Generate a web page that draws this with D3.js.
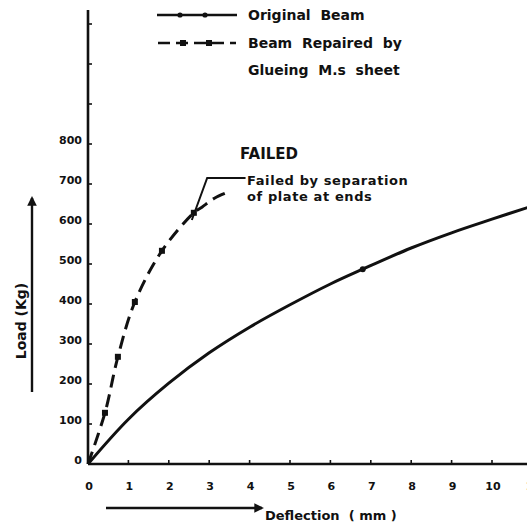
<!DOCTYPE html>
<html>
<head>
<meta charset="utf-8">
<title>Load vs Deflection</title>
<script src="https://cdnjs.cloudflare.com/ajax/libs/d3/7.8.5/d3.min.js"></script>
<style>
  body { margin: 0; background: #fff; }
  svg text { font-family: "DejaVu Sans", sans-serif; font-weight: bold; fill: #111; }
  .axis path, .axis line { stroke: #111; }
</style>
</head>
<body>
<svg width="527" height="524"></svg>
<script>
// deflection (mm) / load (kg)
var originalBeam = [[0,0],[1,112],[2,202],[3,278],[4,342],[5,398],[6,450],[6.8,487],[8,540],[9,578],[10,612],[11,645]];
var originalMarks = [[6.8,487]];
var repairedBeam = [[0,0],[0.42,128],[0.74,268],[1.16,405],[1.83,533],[2.62,628],[2.82,642],[3.14,665],[3.47,680]];
var repairedMarks = [[0.42,128],[0.74,268],[1.16,405],[1.83,533],[2.62,628]];
var failLeader = [[2.57,610],[2.95,715],[3.9,715]];
var xTicks = [0,1,2,3,4,5,6,7,8,9,10,11];
var yTicks = [0,100,200,300,400,500,600,700,800,900,1000,1100];
var yLabels = [0,100,200,300,400,500,600,700,800];

var svg = d3.select("svg");

var x = d3.scaleLinear().domain([0, 10]).range([88, 492]);
var y = d3.scaleLinear().domain([0, 1000]).range([464, 64]);

// axes
var xAxis = svg.append("g").attr("class", "axis");
xAxis.append("line")
    .attr("x1", x(0)).attr("x2", 527)
    .attr("y1", y(0)).attr("y2", y(0))
    .attr("stroke-width", 2.6);
xAxis.selectAll(".tk").data(xTicks).enter().append("line")
    .attr("x1", d => x(d)).attr("x2", d => x(d))
    .attr("y1", y(0)).attr("y2", y(0) - 4)
    .attr("stroke-width", 1.6);
xAxis.selectAll("text").data(xTicks).enter().append("text")
    .attr("x", d => x(d) + 1).attr("y", y(0) + 26)
    .attr("text-anchor", "middle")
    .attr("font-size", 11)
    .text(d => d);

var yAxis = svg.append("g").attr("class", "axis");
yAxis.append("line")
    .attr("x1", x(0)).attr("x2", x(0))
    .attr("y1", y(0)).attr("y2", 10)
    .attr("stroke-width", 2.6);
yAxis.selectAll(".tk").data(yTicks).enter().append("line")
    .attr("x1", x(0)).attr("x2", x(0) + 4)
    .attr("y1", d => y(d)).attr("y2", d => y(d))
    .attr("stroke-width", 1.6);
yAxis.selectAll("text").data(yLabels).enter().append("text")
    .attr("x", x(0) - 6).attr("y", d => y(d))
    .attr("text-anchor", "end")
    .attr("font-size", 11)
    .text(d => d);

// axis titles with arrows
var defs = svg.append("defs");
defs.append("marker").attr("id", "arr")
    .attr("viewBox", "0 0 10 10").attr("refX", 8).attr("refY", 5)
    .attr("markerWidth", 4).attr("markerHeight", 4).attr("orient", "auto")
  .append("path").attr("d", "M0,0L10,5L0,10Z").attr("fill", "#111");

svg.append("line")
    .attr("x1", 106).attr("x2", 262).attr("y1", 508).attr("y2", 508)
    .attr("stroke", "#111").attr("stroke-width", 2.4)
    .attr("marker-end", "url(#arr)");
svg.append("text")
    .attr("x", 265).attr("y", 520)
    .attr("font-size", 13)
    .attr("xml:space", "preserve")
    .text("Deflection  ( mm )");

svg.append("line")
    .attr("x1", 32).attr("x2", 32).attr("y1", 392).attr("y2", 198)
    .attr("stroke", "#111").attr("stroke-width", 2.4)
    .attr("marker-end", "url(#arr)");
svg.append("text")
    .attr("transform", "translate(26,321) rotate(-90)")
    .attr("text-anchor", "middle")
    .attr("font-size", 14)
    .text("Load  (Kg)");

// curves
var line = d3.line().x(d => x(d[0])).y(d => y(d[1])).curve(d3.curveCatmullRom);

svg.append("path").datum(originalBeam)
    .attr("d", line)
    .attr("fill", "none").attr("stroke", "#111").attr("stroke-width", 3);
svg.selectAll(".om").data(originalMarks).enter().append("circle")
    .attr("cx", d => x(d[0])).attr("cy", d => y(d[1])).attr("r", 3)
    .attr("fill", "#111");

svg.append("path").datum(repairedBeam)
    .attr("d", line)
    .attr("fill", "none").attr("stroke", "#111").attr("stroke-width", 3)
    .attr("stroke-dasharray", "13,7");
svg.selectAll(".rm").data(repairedMarks).enter().append("rect")
    .attr("x", d => x(d[0]) - 3).attr("y", d => y(d[1]) - 3)
    .attr("width", 6).attr("height", 6)
    .attr("fill", "#111");

// failure note
svg.append("path").datum(failLeader)
    .attr("d", d3.line().x(d => x(d[0])).y(d => y(d[1])))
    .attr("fill", "none").attr("stroke", "#111").attr("stroke-width", 2);
svg.append("text").attr("x", 240).attr("y", 159).attr("font-size", 15).text("FAILED");
svg.append("text").attr("x", 247).attr("y", 185).attr("font-size", 13)
    .attr("letter-spacing", 0.6).text("Failed by separation");
svg.append("text").attr("x", 247).attr("y", 201).attr("font-size", 13)
    .attr("letter-spacing", 0.6).text("of plate at ends");

// legend
var legend = svg.append("g");
legend.append("line")
    .attr("x1", 157).attr("x2", 237).attr("y1", 15).attr("y2", 15)
    .attr("stroke", "#111").attr("stroke-width", 2.6);
legend.selectAll(".lc").data([180, 205]).enter().append("circle")
    .attr("cx", d => d).attr("cy", 15).attr("r", 2.6).attr("fill", "#111");
legend.append("text").attr("x", 248).attr("y", 20).attr("font-size", 14)
    .attr("xml:space", "preserve").text("Original  Beam");

legend.append("line")
    .attr("x1", 158).attr("x2", 236).attr("y1", 43).attr("y2", 43)
    .attr("stroke", "#111").attr("stroke-width", 2.6)
    .attr("stroke-dasharray", "12,6");
legend.selectAll(".ls").data([183, 209]).enter().append("rect")
    .attr("x", d => d - 3).attr("y", 40).attr("width", 6).attr("height", 6).attr("fill", "#111");
legend.append("text").attr("x", 248).attr("y", 48).attr("font-size", 14)
    .attr("xml:space", "preserve").text("Beam  Repaired  by");
legend.append("text").attr("x", 248).attr("y", 75).attr("font-size", 14)
    .attr("xml:space", "preserve").text("Glueing  M.s  sheet");
</script>
</body>
</html>
